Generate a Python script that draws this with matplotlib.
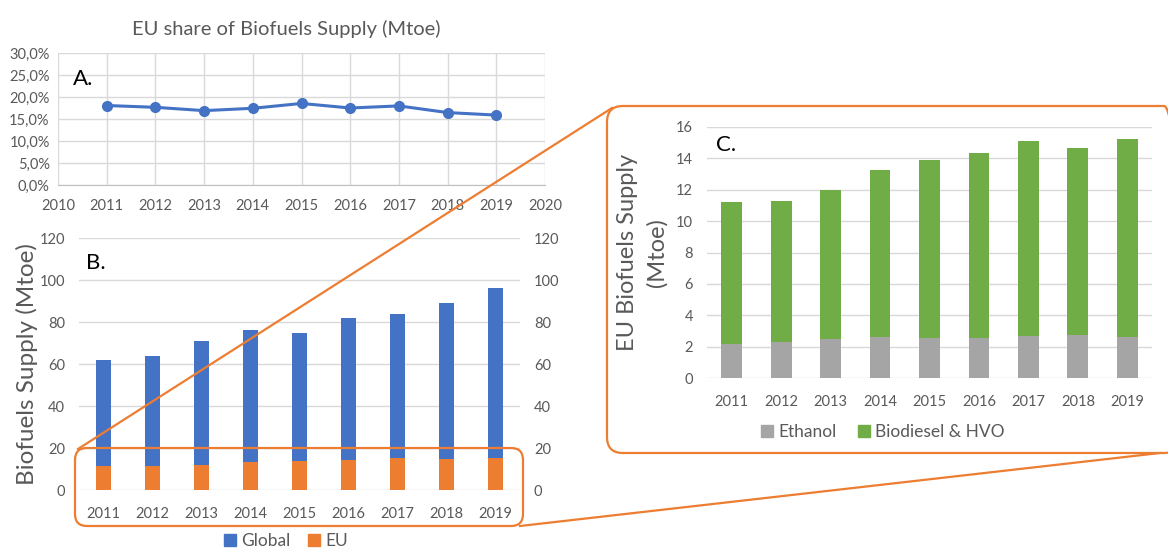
import matplotlib
matplotlib.use("Agg")
import matplotlib.pyplot as plt
from matplotlib.patches import FancyBboxPatch, Patch
from matplotlib.lines import Line2D
import numpy as np

plt.rcParams['font.family'] = ['Lato', 'DejaVu Sans']

years = [2011, 2012, 2013, 2014, 2015, 2016, 2017, 2018, 2019]
year_labels = [str(y) for y in years]
global_supply = [62, 64, 71, 76, 75, 82, 84, 89, 96]
ethanol = [2.15, 2.3, 2.5, 2.6, 2.55, 2.55, 2.7, 2.75, 2.6]
biodiesel_hvo = [9.05, 9.0, 9.5, 10.65, 11.35, 11.8, 12.4, 11.9, 12.65]
eu_supply = [e + b for e, b in zip(ethanol, biodiesel_hvo)]
eu_share = [e / g for e, g in zip(eu_supply, global_supply)]

BLUE = "#4472C4"
ORANGE = "#ED7D31"
GREY = "#A5A5A5"
GREEN = "#70AD47"
GRID = "#D9D9D9"
TXT = "#595959"

W, H = 1168, 549
fig = plt.figure(figsize=(W / 100, H / 100), dpi=100)


def rect(x0, y0, x1, y1):
    # pixel box (top-left origin) -> figure fraction [l, b, w, h]
    return [x0 / W, 1 - y1 / H, (x1 - x0) / W, (y1 - y0) / H]


def fpt(x, y):
    return x / W, 1 - y / H


def style(ax):
    for s in ax.spines.values():
        s.set_visible(False)
    ax.tick_params(length=0, colors=TXT, labelsize=10.5)
    ax.set_axisbelow(True)


# A: EU share line chart
axA = fig.add_axes(rect(58, 53, 545, 185))
style(axA)
axA.plot(years, eu_share, color=BLUE, lw=2.2, marker="o", ms=7, zorder=3)
axA.set_xlim(2010, 2020)
axA.set_ylim(0, 0.30)
axA.set_xticks(range(2010, 2021))
axA.set_yticks(np.arange(0, 0.301, 0.05))
axA.set_yticklabels([f"{v * 100:.1f}%".replace(".", ",") for v in np.arange(0, 0.301, 0.05)])
axA.grid(True, color=GRID, lw=1)
axA.spines['bottom'].set_visible(True)
axA.spines['bottom'].set_color("#BFBFBF")
axA.tick_params(axis='x', pad=10)
axA.tick_params(axis='y', pad=6)
axA.text(0.03, 0.80, "A.", transform=axA.transAxes, fontsize=16, color="black",
         va="center")
fig.text(*fpt(286, 29), "EU share of Biofuels Supply (Mtoe)", ha="center",
         va="center", fontsize=14.5, color=TXT)

# B: global vs EU supply
axB = fig.add_axes(rect(79, 238, 520, 490))
style(axB)
x = np.arange(len(years))
axB.bar(x, global_supply, width=0.31, color=BLUE, zorder=2)
axB.bar(x, eu_supply, width=0.31, color=ORANGE, zorder=3)
axB.set_xlim(-0.5, len(years) - 0.5)
axB.set_ylim(0, 120)
axB.set_yticks(range(0, 121, 20))
axB.set_xticks(x)
axB.set_xticklabels(year_labels)
axB.grid(True, axis='y', color=GRID, lw=1)
axB.tick_params(axis='x', pad=12)
axB.tick_params(axis='y', pad=10)
axB.set_ylabel("Biofuels Supply (Mtoe)", fontsize=17.5, color=TXT, labelpad=1)
axB.text(0.015, 0.9, "B.", transform=axB.transAxes, fontsize=16, color="black",
         va="center")
axB2 = axB.twinx()
style(axB2)
axB2.set_ylim(0, 120)
axB2.set_yticks(range(0, 121, 20))
axB2.tick_params(axis='y', pad=10)
axB.legend(handles=[Patch(color=BLUE, label="Global"), Patch(color=ORANGE, label="EU")],
           loc="center", bbox_to_anchor=(fpt(286, 541)), bbox_transform=fig.transFigure,
           ncol=2, frameon=False, fontsize=12.5, handlelength=0.7, handleheight=0.7,
           handletextpad=0.3, columnspacing=1.0, labelcolor=TXT)

# C: EU breakdown
axC = fig.add_axes(rect(707, 127, 1152, 378))
style(axC)
axC.bar(x, ethanol, width=0.42, color=GREY, zorder=2)
axC.bar(x, biodiesel_hvo, bottom=ethanol, width=0.42, color=GREEN, zorder=2)
axC.set_xlim(-0.5, len(years) - 0.5)
axC.set_ylim(0, 16)
axC.set_yticks(range(0, 17, 2))
axC.set_xticks(x)
axC.set_xticklabels(year_labels)
axC.grid(True, axis='y', color=GRID, lw=1)
axC.tick_params(axis='x', pad=12)
axC.tick_params(axis='y', pad=10)
axC.set_ylabel("EU Biofuels Supply\n(Mtoe)", fontsize=17, color=TXT, labelpad=6,
               linespacing=1.45)
axC.text(0.02, 0.93, "C.", transform=axC.transAxes, fontsize=16, color="black",
         va="center")
axC.legend(handles=[Patch(color=GREY, label="Ethanol"),
                    Patch(color=GREEN, label="Biodiesel & HVO")],
           loc="center", bbox_to_anchor=(fpt(883, 432)), bbox_transform=fig.transFigure,
           ncol=2, frameon=False, fontsize=12.5, handlelength=0.7, handleheight=0.7,
           handletextpad=0.3, columnspacing=1.2, labelcolor=TXT)

# zoom callout: rounded boxes and connectors
for (x0, y0, x1, y1, r) in [(75, 448, 523, 526, 12), (607, 106, 1180, 453, 16)]:
    l, b, w, h = rect(x0, y0, x1, y1)
    fig.patches.append(FancyBboxPatch((l, b), w, h,
                                      boxstyle=f"round,pad=0,rounding_size={r / W}",
                                      transform=fig.transFigure, fill=False,
                                      ec=ORANGE, lw=1.6, zorder=5,
                                      mutation_aspect=W / H))
for (xa, ya), (xb, yb) in [((78, 449), (612, 108)), ((520, 526), (1160, 453))]:
    p0, p1 = fpt(xa, ya), fpt(xb, yb)
    fig.lines.append(Line2D([p0[0], p1[0]], [p0[1], p1[1]], transform=fig.transFigure,
                            color=ORANGE, lw=1.6, zorder=5))

fig.savefig("out.png", dpi=100)
